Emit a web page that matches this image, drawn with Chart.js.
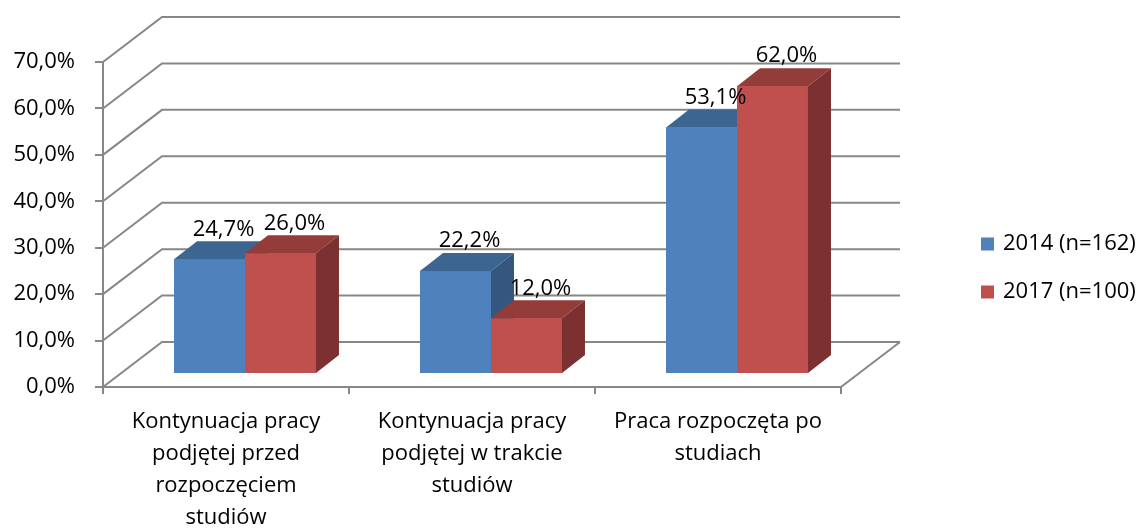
<!DOCTYPE html>
<html>
<head>
<meta charset="utf-8">
<script src="https://cdn.jsdelivr.net/npm/chart.js@4.4.1/dist/chart.umd.min.js"></script>
<style>
  html, body { margin: 0; padding: 0; background: #fff; }
  #wrap { width: 1148px; height: 528px; }
</style>
</head>
<body>
<div id="wrap"><canvas id="chart" width="1148" height="528"></canvas></div>
<script>
const categories = [
  ["Kontynuacja pracy", "podjętej przed", "rozpoczęciem", "studiów"],
  ["Kontynuacja pracy", "podjętej w trakcie", "studiów"],
  ["Praca rozpoczęta po", "studiach"],
];
const values2014 = [24.7, 22.2, 53.1];
const values2017 = [26.0, 12.0, 62.0];
const seriesNames = ["2014 (n=162)", "2017 (n=100)"];
const yTickValues = [0, 10, 20, 30, 40, 50, 60, 70];

const FONT = "'Open Sans', sans-serif";
const FONT_SIZE = 22;
const GRID = "#878787";
const wall = { dx: 59, dy: 45 };      // offset of the back wall
const barShift = { dx: 19, dy: 13 };  // bars sit a bit behind the front plane
const depth = { dx: 23, dy: 18 };     // bar depth
const faces = [
  { front: "#4F81BD", top: "#3D6591", side: "#35577F" },
  { front: "#C0504D", top: "#933C3A", side: "#7C302F" },
];

function pct(v) {
  return Number(v).toFixed(1).replace(".", ",") + "%";
}

const threeD = {
  id: "threeD",
  beforeDatasetsDraw(chart) {
    // walls and floor, drawn behind the bars
    const ctx = chart.ctx;
    const y = chart.scales.y;
    const area = chart.chartArea;
    ctx.save();
    ctx.strokeStyle = GRID;
    ctx.lineWidth = 2;
    ctx.beginPath();
    yTickValues.forEach((v) => {
      const py = y.getPixelForValue(v);
      ctx.moveTo(area.left, py);
      ctx.lineTo(area.left + wall.dx, py - wall.dy);
      ctx.lineTo(area.right + wall.dx, py - wall.dy);
    });
    ctx.moveTo(area.right, area.bottom);
    ctx.lineTo(area.right + wall.dx, area.bottom - wall.dy);
    ctx.stroke();
    ctx.restore();
  },
  beforeDatasetDraw(chart) {
    chart.ctx.save();
    chart.ctx.translate(barShift.dx, -barShift.dy);
  },
  afterDatasetDraw(chart) {
    chart.ctx.restore();
  },
  afterDatasetsDraw(chart) {
    const ctx = chart.ctx;
    // faces, series by series so later bars cover earlier sides
    ctx.save();
    ctx.translate(barShift.dx, -barShift.dy);
    chart.data.datasets.forEach((ds, i) => {
      const f = faces[i];
      chart.getDatasetMeta(i).data.forEach((bar) => {
        const l = bar.x - bar.width / 2;
        const r = bar.x + bar.width / 2;
        const t = bar.y;
        const b = bar.base;
        bar.draw(ctx);
        ctx.fillStyle = f.top;
        ctx.beginPath();
        ctx.moveTo(l, t);
        ctx.lineTo(l + depth.dx, t - depth.dy);
        ctx.lineTo(r + depth.dx, t - depth.dy);
        ctx.lineTo(r, t);
        ctx.closePath();
        ctx.fill();
        ctx.fillStyle = f.side;
        ctx.beginPath();
        ctx.moveTo(r, t);
        ctx.lineTo(r + depth.dx, t - depth.dy);
        ctx.lineTo(r + depth.dx, b - depth.dy);
        ctx.lineTo(r, b);
        ctx.closePath();
        ctx.fill();
      });
    });
    ctx.restore();

    // value labels
    ctx.save();
    ctx.font = FONT_SIZE + "px " + FONT;
    ctx.fillStyle = "#000";
    ctx.textAlign = "center";
    ctx.textBaseline = "middle";
    chart.data.datasets.forEach((ds, i) => {
      chart.getDatasetMeta(i).data.forEach((bar, j) => {
        ctx.fillText(pct(ds.data[j]), bar.x + barShift.dx + 14, bar.y - barShift.dy - 30);
      });
    });
    ctx.restore();
  },
  afterDraw(chart) {
    // legend on the right
    const ctx = chart.ctx;
    ctx.save();
    ctx.font = FONT_SIZE + "px " + FONT;
    ctx.textBaseline = "middle";
    chart.data.datasets.forEach((ds, i) => {
      const cy = 244 + i * 48;
      ctx.fillStyle = ds.backgroundColor;
      ctx.fillRect(981, cy - 6.5, 13, 13);
      ctx.fillStyle = "#000";
      ctx.fillText(ds.label, 1003, cy);
    });
    ctx.restore();
  },
};

const tickFont = { family: FONT, size: FONT_SIZE, lineHeight: 32 / FONT_SIZE };

new Chart(document.getElementById("chart"), {
  type: "bar",
  data: {
    labels: categories,
    datasets: [
      { label: seriesNames[0], data: values2014, backgroundColor: faces[0].front, clip: false },
      { label: seriesNames[1], data: values2017, backgroundColor: faces[1].front, clip: false },
    ],
  },
  options: {
    responsive: false,
    animation: false,
    layout: { padding: { top: 62, right: 307, left: 0, bottom: 0 } },
    datasets: { bar: { categoryPercentage: 0.577, barPercentage: 1 } },
    plugins: { legend: { display: false }, tooltip: { enabled: false } },
    scales: {
      x: {
        grid: { drawOnChartArea: false, color: GRID, lineWidth: 2, tickLength: 7, offset: true },
        border: { color: GRID, width: 2 },
        ticks: { color: "#000", font: tickFont, padding: 12, maxRotation: 0, autoSkip: false },
        afterFit: (s) => { s.height = 141; },
      },
      y: {
        min: 0,
        max: 70,
        afterBuildTicks: (s) => { s.ticks = yTickValues.map((v) => ({ value: v })); },
        grid: { drawOnChartArea: false, color: GRID, lineWidth: 2, tickLength: 8 },
        border: { color: GRID, width: 2 },
        ticks: { color: "#000", font: { family: FONT, size: FONT_SIZE }, padding: 20, callback: (v) => pct(v) },
        afterFit: (s) => { s.width = 103; },
      },
    },
  },
  plugins: [threeD],
});
</script>
</body>
</html>
